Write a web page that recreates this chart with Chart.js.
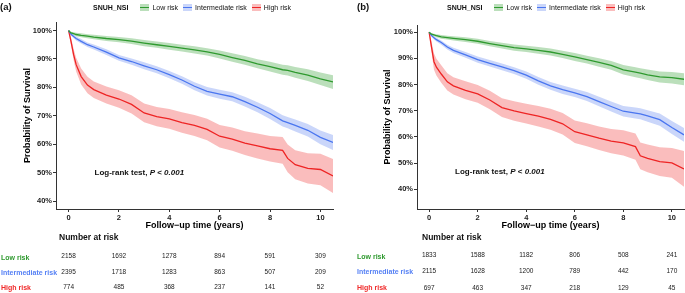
<!DOCTYPE html>
<html><head><meta charset="utf-8">
<script src="https://cdn.jsdelivr.net/npm/chart.js@4.4.1/dist/chart.umd.min.js"></script>
<style>
html,body{margin:0;padding:0;background:#fff;}
#wrap{position:relative;width:685px;height:293px;overflow:hidden;font-family:'Liberation Sans',Arial,sans-serif;color:#111;}
canvas{position:absolute;top:0;}
.t{position:absolute;white-space:nowrap;line-height:1;}
.lg{position:absolute;top:2px;height:10px;display:flex;align-items:center;white-space:nowrap;font-size:7px;line-height:1;}
.key{position:relative;width:9px;height:7px;flex:none;}
.key i{position:absolute;left:0;right:0;top:3px;height:1.3px;}
</style></head><body>
<div id="wrap">
<canvas id="ca" width="340" height="293" style="left:0px"></canvas>
<canvas id="cb" width="345" height="293" style="left:340px"></canvas>
</div>
<script>
// ---------- data ----------
const groups = ['Low risk', 'Intermediate risk', 'High risk'];
const legendTitle = 'SNUH_NSI';
const xTicks = [0, 2, 4, 6, 8, 10];
const yTicks = [40, 50, 60, 70, 80, 90, 100];
const riskTimes = [0, 2, 4, 6, 8, 10];
const times = [0, 0.05, 0.1, 0.2, 0.3, 0.5, 0.75, 1, 1.5, 2, 2.5, 3, 3.5, 4, 4.5, 5, 5.5, 6, 6.5, 7, 7.5, 8, 8.5, 8.7, 9, 9.5, 10, 10.5];

// panel (a)
const lowA    = [100, 99.5, 99.2, 98.9, 98.6, 98.3, 98.0, 97.7, 97.2, 96.8, 96.3, 95.6, 95.0, 94.4, 93.8, 93.2, 92.5, 91.6, 90.5, 89.5, 88.3, 87.3, 86.2, 86.0, 85.3, 84.3, 83.0, 81.9];
const lowA_hi = [100, 99.8, 99.6, 99.4, 99.2, 99.0, 98.7, 98.5, 98.1, 97.7, 97.3, 96.7, 96.1, 95.6, 95.0, 94.5, 93.8, 93.0, 92.0, 91.0, 89.9, 89.0, 88.0, 87.8, 87.2, 86.4, 85.2, 84.3];
const lowA_lo = [100, 99.2, 98.8, 98.4, 98.0, 97.6, 97.3, 96.9, 96.3, 95.9, 95.3, 94.5, 93.9, 93.2, 92.6, 91.9, 91.2, 90.2, 89.0, 88.0, 86.7, 85.6, 84.4, 84.2, 83.4, 82.2, 80.8, 79.4];
const intA    = [100, 99.3, 98.7, 97.9, 97.2, 96.2, 95.0, 94.2, 92.4, 90.4, 89.1, 87.6, 86.2, 84.5, 82.6, 80.4, 78.6, 77.6, 76.7, 75.0, 73.0, 70.8, 68.2, 67.6, 66.6, 64.9, 62.4, 60.6];
const intA_hi = [100, 99.7, 99.2, 98.5, 97.9, 97.0, 95.8, 95.1, 93.4, 91.4, 90.2, 88.8, 87.4, 85.8, 83.9, 81.8, 80.1, 79.2, 78.3, 76.7, 74.8, 72.7, 70.2, 69.6, 68.7, 67.1, 64.8, 63.2];
const intA_lo = [100, 98.9, 98.2, 97.3, 96.5, 95.4, 94.2, 93.3, 91.4, 89.4, 88.0, 86.4, 85.0, 83.2, 81.3, 79.0, 77.1, 76.0, 75.1, 73.3, 71.2, 68.9, 66.2, 65.6, 64.5, 62.7, 60.0, 58.0];
const highA    = [100, 98.0, 96.0, 91.5, 88.0, 83.8, 80.8, 79.2, 77.3, 75.9, 74.0, 71.0, 69.7, 68.9, 67.6, 66.6, 65.2, 62.8, 61.8, 60.4, 59.4, 58.4, 57.8, 55.0, 52.8, 51.5, 51.1, 48.8];
const highA_hi = [100, 99.0, 97.4, 93.5, 90.4, 86.6, 83.7, 82.1, 80.3, 79.0, 77.2, 74.3, 73.1, 72.4, 71.2, 70.3, 69.0, 66.8, 65.9, 64.6, 63.8, 62.9, 62.5, 59.9, 57.9, 56.8, 56.6, 54.8];
const highA_lo = [100, 97.0, 94.6, 89.5, 85.6, 81.0, 77.9, 76.3, 74.3, 72.8, 70.8, 67.7, 66.3, 65.4, 64.0, 62.9, 61.4, 58.8, 57.7, 56.2, 55.0, 53.9, 53.1, 50.1, 47.7, 46.2, 45.6, 42.8];

// panel (b)
const lowB    = [100, 99.5, 99.2, 98.9, 98.6, 98.2, 97.9, 97.6, 97.1, 96.5, 95.6, 94.8, 94.1, 93.6, 93.0, 92.4, 91.5, 90.5, 89.5, 88.4, 87.3, 85.6, 84.7, 84.3, 83.7, 82.9, 82.6, 82.0];
const lowB_hi = [100, 99.8, 99.6, 99.4, 99.2, 98.9, 98.6, 98.4, 98.0, 97.5, 96.6, 95.9, 95.3, 94.8, 94.3, 93.7, 92.9, 92.0, 91.0, 90.0, 89.0, 87.4, 86.6, 86.2, 85.7, 85.0, 84.8, 84.3];
const lowB_lo = [100, 99.2, 98.8, 98.4, 98.0, 97.5, 97.2, 96.8, 96.2, 95.5, 94.6, 93.7, 92.9, 92.4, 91.7, 91.1, 90.1, 89.0, 88.0, 86.8, 85.6, 83.8, 82.8, 82.4, 81.7, 80.8, 80.4, 79.7];
const intB    = [100, 99.3, 98.7, 97.8, 97.1, 96.0, 94.3, 93.0, 91.3, 89.5, 88.1, 86.7, 85.3, 83.6, 81.4, 79.5, 78.0, 76.8, 75.4, 73.5, 71.6, 69.8, 69.1, 68.8, 68.0, 66.6, 63.6, 60.8];
const intB_hi = [100, 99.7, 99.2, 98.4, 97.8, 96.8, 95.2, 94.0, 92.4, 90.7, 89.3, 88.0, 86.6, 85.0, 82.9, 81.0, 79.6, 78.4, 77.1, 75.3, 73.5, 71.8, 71.2, 70.9, 70.2, 68.9, 66.1, 63.4];
const intB_lo = [100, 98.9, 98.2, 97.2, 96.4, 95.2, 93.4, 92.0, 90.2, 88.3, 86.9, 85.4, 84.0, 82.2, 79.9, 78.0, 76.4, 75.2, 73.7, 71.7, 69.7, 67.8, 67.0, 66.7, 65.8, 64.3, 61.1, 58.2];
const highB    = [100, 97.0, 94.2, 88.7, 86.6, 84.0, 81.0, 79.5, 77.8, 76.4, 74.1, 71.2, 69.9, 68.9, 67.9, 66.7, 65.0, 62.0, 60.8, 59.5, 58.4, 57.7, 56.3, 52.8, 51.8, 50.6, 50.1, 47.8];
const highB_hi = [100, 98.2, 96.2, 91.8, 89.8, 87.3, 84.3, 82.8, 81.2, 79.8, 77.6, 74.8, 73.6, 72.7, 71.8, 70.7, 69.1, 66.3, 65.2, 64.0, 63.0, 62.5, 61.3, 57.9, 57.1, 56.1, 55.8, 54.6];
const highB_lo = [100, 95.8, 92.2, 85.6, 83.4, 80.7, 77.7, 76.2, 74.4, 73.0, 70.6, 67.6, 66.2, 65.1, 64.0, 62.7, 60.9, 57.7, 56.4, 55.0, 53.8, 52.9, 51.3, 47.7, 46.5, 45.1, 44.4, 41.0];

// numbers at risk
const riskA_low  = [2158, 1692, 1278, 894, 591, 309];
const riskA_int  = [2395, 1718, 1283, 863, 507, 209];
const riskA_high = [774, 485, 368, 237, 141, 52];
const riskB_low  = [1833, 1588, 1182, 806, 508, 241];
const riskB_int  = [2115, 1628, 1200, 789, 442, 170];
const riskB_high = [697, 463, 347, 218, 129, 45];

// ---------- styling ----------
const lineCol = ['#2f9a2f', '#4a76f0', '#ee2424'];
const bandCol = ['rgba(55,160,55,0.34)', 'rgba(80,120,240,0.30)', 'rgba(240,50,50,0.32)'];
const textCol = ['#2f9a2f', '#5580f5', '#f02a2a'];
const FONT = "'Liberation Sans', Arial, sans-serif";
Chart.defaults.font.family = FONT;

const panels = [
  { id: 'ca', offX: 0, label: '(a)', labelX: 0, yMin: 37.2, yMax: 103.0,
    pad: { left: 0, right: 7, top: 22, bottom: 62 }, yw: 56,
    est: [lowA, intA, highA], lo: [lowA_lo, intA_lo, highA_lo], hi: [lowA_hi, intA_hi, highA_hi],
    risk: [riskA_low, riskA_int, riskA_high],
    legendX: 93, nrX: 59, rowX: 1, rowY: [257, 272, 287], numY: [256, 272, 287], logrank: [1.03, 50] },
  { id: 'cb', offX: 340, label: '(b)', labelX: 357, yMin: 32.5, yMax: 102.7,
    pad: { left: 20, right: 1, top: 25, bottom: 62 }, yw: 57,
    est: [lowB, intB, highB], lo: [lowB_lo, intB_lo, highB_lo], hi: [lowB_hi, intB_hi, highB_hi],
    risk: [riskB_low, riskB_int, riskB_high],
    legendX: 447, nrX: 422, rowX: 357, rowY: [256, 271, 287], numY: [255, 271, 288], logrank: [1.07, 46.8] }
];

const wrap = document.getElementById('wrap');
function addText(html, x, y, size, opts) {
  opts = opts || {};
  const d = document.createElement('div');
  d.className = 't';
  d.innerHTML = html;
  d.style.fontSize = size + 'px';
  d.style.left = x + 'px';
  d.style.top = (y - size * 0.5) + 'px';
  if (opts.bold) d.style.fontWeight = 'bold';
  if (opts.color) d.style.color = opts.color;
  if (opts.center) d.style.transform = 'translateX(-50%)';
  wrap.appendChild(d);
  return d;
}
const pts = (t, v) => t.map((x, i) => ({ x: x, y: v[i] }));

panels.forEach(p => {
  const ds = [];
  for (let k = 0; k < 3; k++) {
    ds.push({ data: pts(times, p.lo[k]), borderWidth: 0, pointRadius: 0, fill: false });
    ds.push({ data: pts(times, p.hi[k]), borderWidth: 0, pointRadius: 0, fill: ds.length - 1, backgroundColor: bandCol[k] });
  }
  for (let k = 0; k < 3; k++) {
    ds.push({ label: groups[k], data: pts(times, p.est[k]), borderColor: lineCol[k], borderWidth: 1.3, pointRadius: 0, fill: false, tension: 0 });
  }
  const chart = new Chart(document.getElementById(p.id), {
    type: 'line',
    data: { datasets: ds },
    options: {
      responsive: false, animation: false, devicePixelRatio: 1,
      layout: { padding: p.pad },
      plugins: { legend: { display: false }, tooltip: { enabled: false }, filler: { drawTime: 'beforeDatasetsDraw' } },
      scales: {
        x: {
          type: 'linear', min: -0.5, max: 10.5,
          afterBuildTicks: s => { s.ticks = xTicks.map(v => ({ value: v })); },
          afterFit: s => { s.height = 22; },
          grid: { display: true, drawOnChartArea: false, drawTicks: true, tickLength: 3, color: '#333', lineWidth: 1 },
          border: { display: true, color: '#333', width: 1 },
          ticks: { color: '#222', font: { size: 7.5, weight: 'bold' }, padding: 1, maxRotation: 0, autoSkip: false },
          title: { display: true, text: 'Follow−up time (years)', color: '#000', font: { size: 9, weight: 'bold' }, padding: { top: 0, bottom: 0 } }
        },
        y: {
          type: 'linear', min: p.yMin, max: p.yMax,
          afterBuildTicks: s => { s.ticks = yTicks.map(v => ({ value: v })); },
          afterFit: s => { s.width = p.yw; },
          grid: { display: true, drawOnChartArea: false, drawTicks: true, tickLength: 3, color: '#333', lineWidth: 1 },
          border: { display: true, color: '#333', width: 1 },
          ticks: { color: '#222', font: { size: 7.5, weight: 'bold' }, padding: 1, callback: v => v + '%' },
          title: { display: true, text: 'Probability of Survival', color: '#000', font: { size: 9, weight: 'bold' }, padding: { top: 22.6, bottom: 0 } }
        }
      }
    }
  });

  const xs = chart.scales.x, ys = chart.scales.y;
  // panel label
  addText(p.label, p.labelX, 7, 9.5, { bold: true });
  // legend (flex row)
  const lg = document.createElement('div');
  lg.className = 'lg';
  lg.style.left = p.legendX + 'px';
  let h = '<span style="font-weight:bold;margin-right:12px">' + legendTitle + '</span>';
  for (let k = 0; k < 3; k++) {
    h += '<span class="key" style="background:' + bandCol[k] + ';margin-right:3px"><i style="background:' + lineCol[k] + '"></i></span>' +
         '<span style="margin-right:' + (k < 2 ? 5 : 0) + 'px">' + groups[k] + '</span>';
  }
  lg.innerHTML = h;
  wrap.appendChild(lg);
  // log-rank annotation
  addText('Log-rank test, <i>P</i> &lt; <i>0.001</i>', p.offX + xs.getPixelForValue(p.logrank[0]), ys.getPixelForValue(p.logrank[1]), 8, { bold: true });
  // risk table
  addText('Number at risk', p.nrX, 237, 8.5, { bold: true });
  for (let k = 0; k < 3; k++) {
    addText(groups[k], p.rowX, p.rowY[k], 7, { bold: true, color: textCol[k] });
    p.risk[k].forEach((n, j) => {
      addText(String(n), p.offX + xs.getPixelForValue(riskTimes[j]), p.numY[k], 6.5, { center: true, color: '#222' });
    });
  }
});
</script>
</body></html>
